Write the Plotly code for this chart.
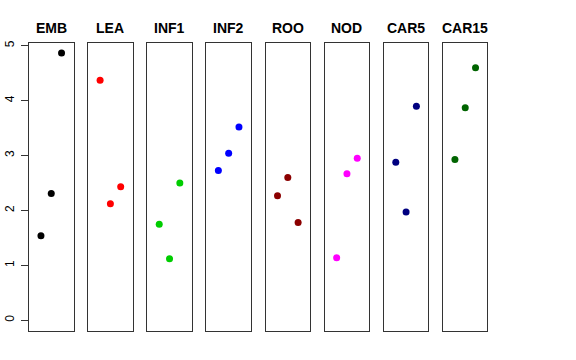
import plotly.graph_objects as go

panels = ["EMB", "LEA", "INF1", "INF2", "ROO", "NOD", "CAR5", "CAR15"]
x_pos = [1, 2, 3]
values = {
    "EMB": [1.54, 2.31, 4.87],
    "LEA": [4.37, 2.12, 2.43],
    "INF1": [1.75, 1.12, 2.50],
    "INF2": [2.73, 3.04, 3.52],
    "ROO": [2.27, 2.60, 1.78],
    "NOD": [1.14, 2.67, 2.95],
    "CAR5": [2.88, 1.97, 3.90],
    "CAR15": [2.93, 3.87, 4.60],
}
colors = ["#000000", "#FF0000", "#00CD00", "#0000FF", "#8B0000", "#FF00FF", "#000080", "#006400"]
y_ticks = [0, 1, 2, 3, 4, 5]

W, H = 576, 360
left0, step, pw = 29.0, 59.14, 44.5
top_px, bot_px = 43.0, 330.7
title_px = 28

fig = go.Figure()
layout = dict(
    width=W, height=H, margin=dict(l=0, r=0, t=0, b=0, autoexpand=False),
    paper_bgcolor="white", plot_bgcolor="white", showlegend=False,
    font=dict(family="Liberation Sans, Arial, sans-serif", color="black"),
)
annotations = []
for i, name in enumerate(panels):
    n = "" if i == 0 else str(i + 1)
    fig.add_trace(go.Scatter(
        x=x_pos, y=values[name], mode="markers",
        marker=dict(color=colors[i], size=7, line=dict(width=0)),
        xaxis="x" + n, yaxis="y" + n, hoverinfo="skip",
    ))
    x0 = (left0 + i * step) / W
    x1 = (left0 + i * step + pw) / W
    layout["xaxis" + n] = dict(
        domain=[x0, x1], range=[-0.16, 4.16], showgrid=False, zeroline=False,
        showticklabels=False, ticks="", showline=True, mirror=True,
        linecolor="#333333", linewidth=1, anchor="y" + n, fixedrange=True,
        automargin=False,
    )
    ya = dict(
        domain=[1 - bot_px / H, 1 - top_px / H], range=[-0.19, 5.05],
        showgrid=False, zeroline=False, showline=True, mirror=True,
        linecolor="#333333", linewidth=1, anchor="x" + n, fixedrange=True,
        automargin=False,
    )
    if i == 0:
        ya.update(tickvals=y_ticks, ticktext=[str(v) for v in y_ticks],
                  ticks="outside", ticklen=7, tickcolor="#333333",
                  tickangle=-90, tickfont=dict(size=12, color="black"),
                  ticklabelstandoff=2)
    else:
        ya.update(showticklabels=False, ticks="")
    layout["yaxis" + n] = ya
    annotations.append(dict(
        x=(x0 + x1) / 2, y=1 - title_px / H, xref="paper", yref="paper",
        text="<b>" + name + "</b>", showarrow=False,
        font=dict(size=14, color="black"), xanchor="center", yanchor="middle",
    ))
layout["annotations"] = annotations
fig.update_layout(**layout)
fig.write_html("out.html", config={"displayModeBar": False},
               post_script="document.body.style.margin='0';")
